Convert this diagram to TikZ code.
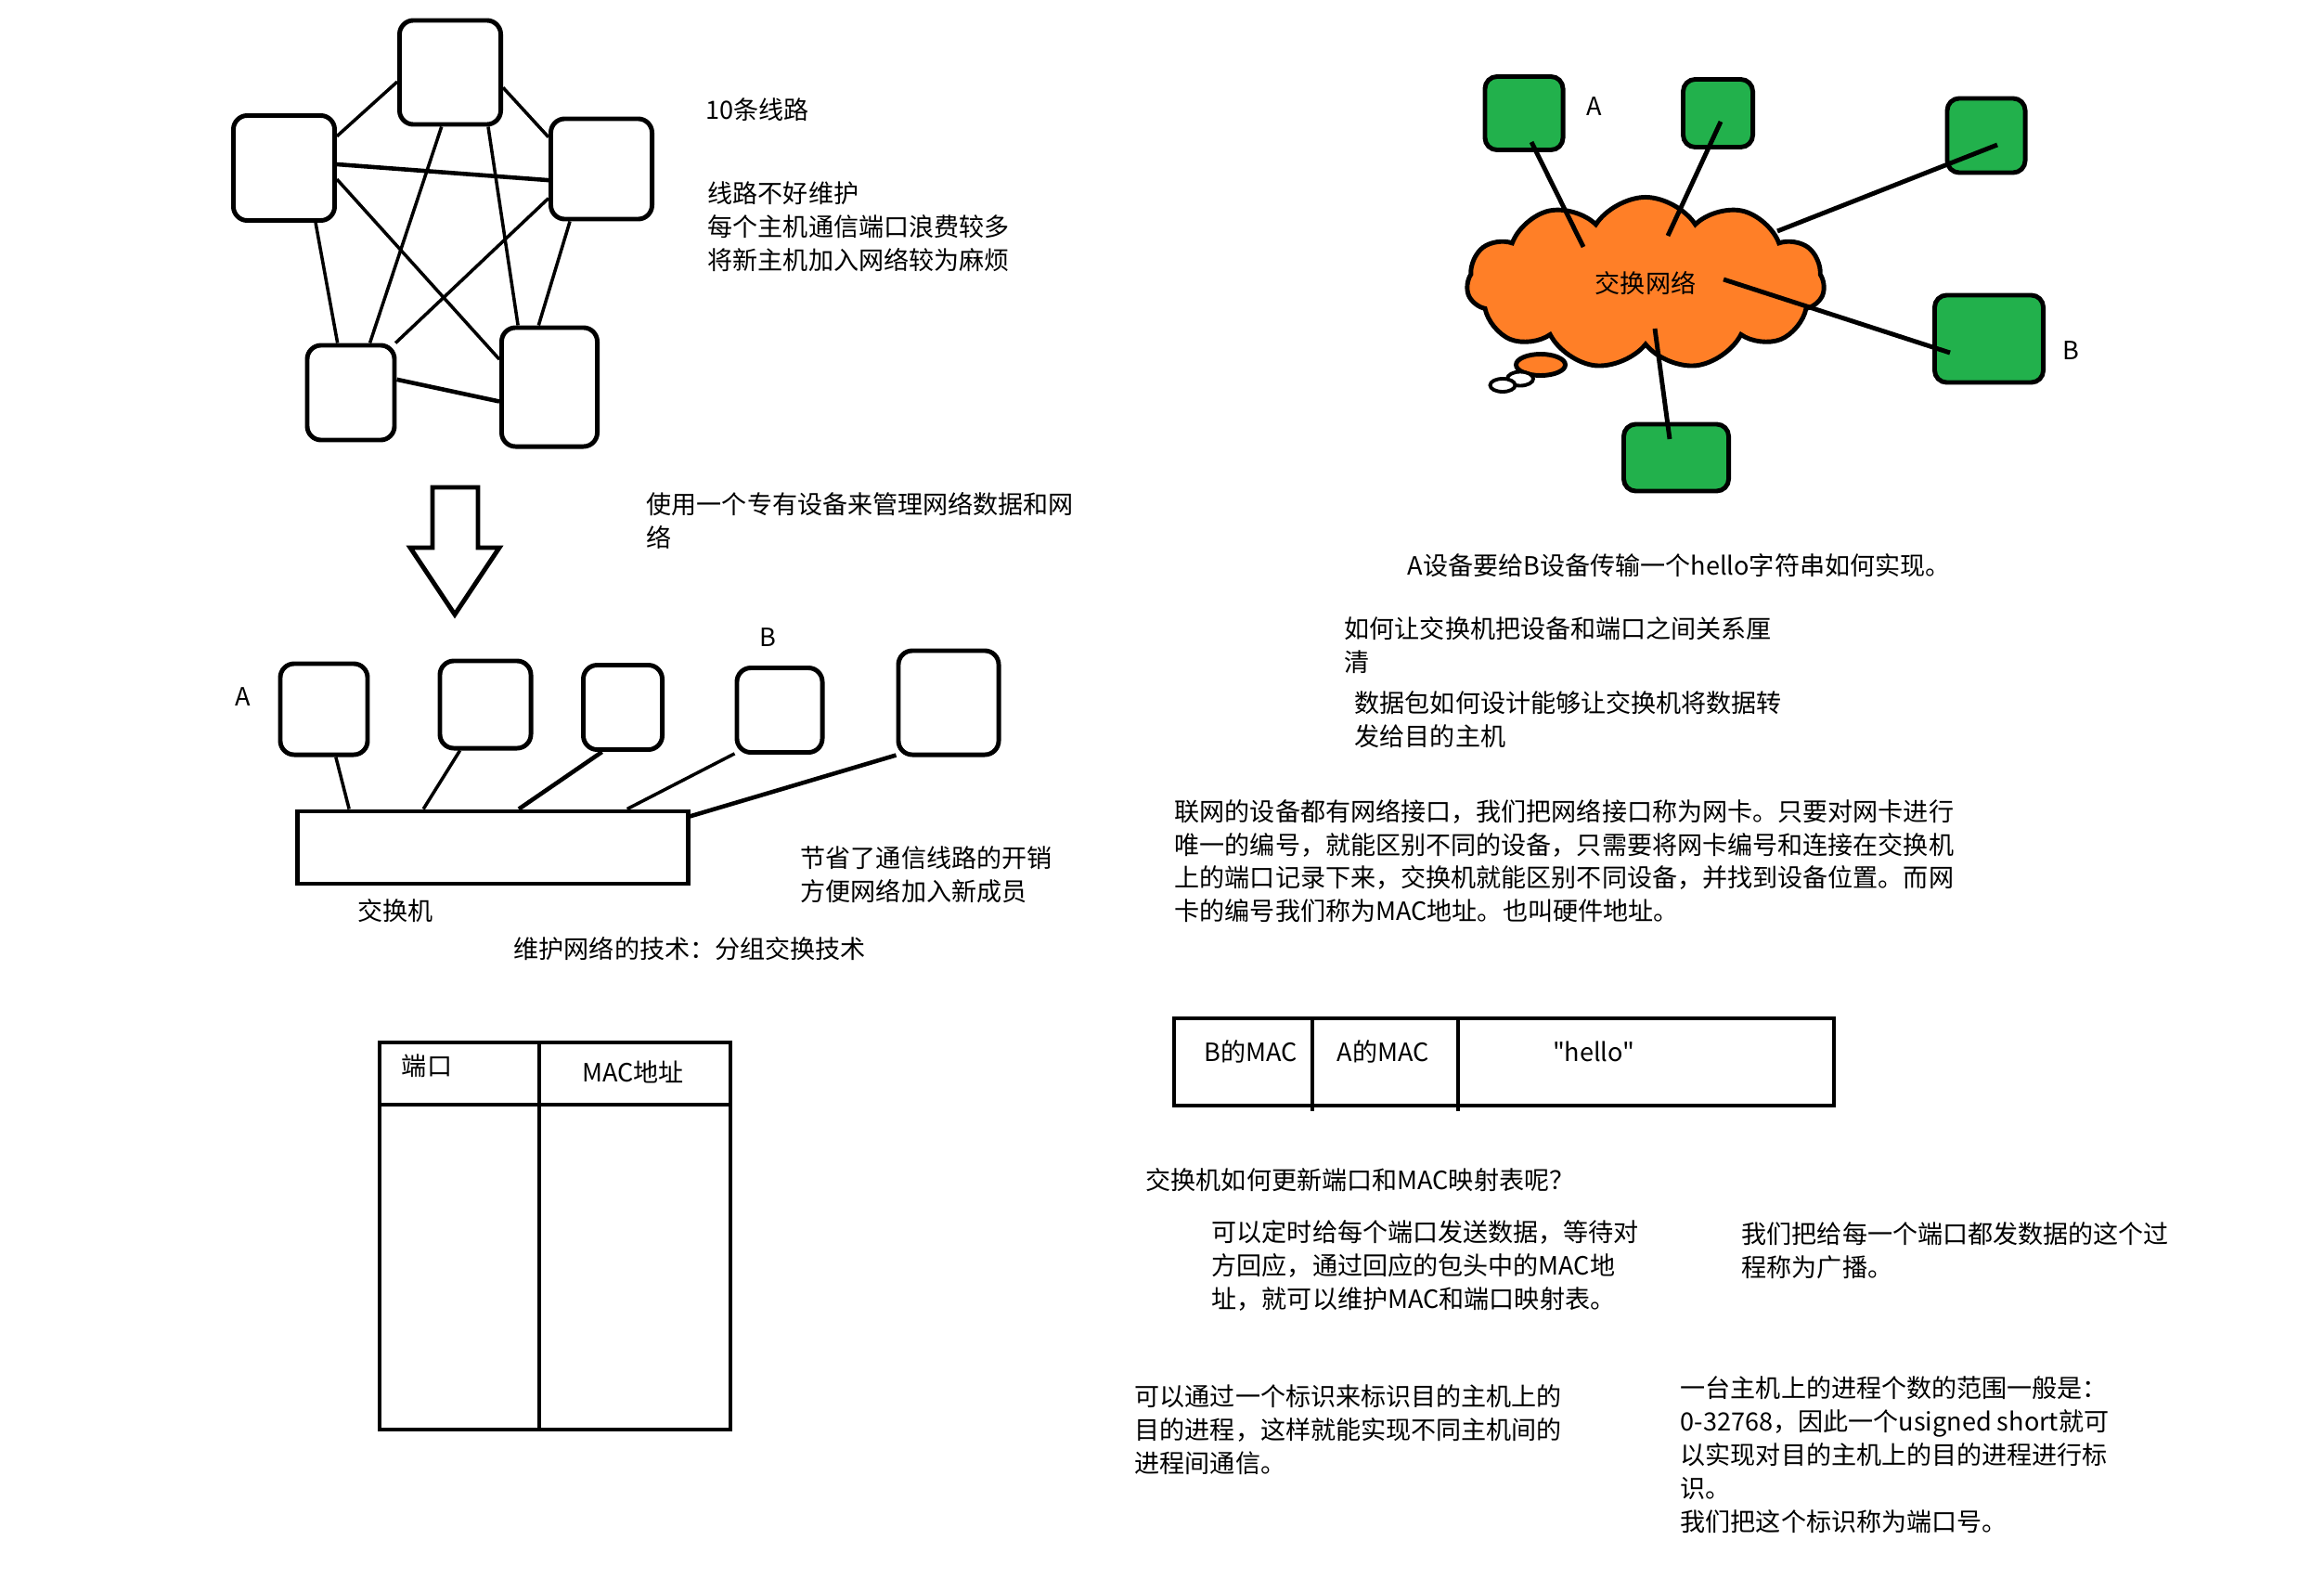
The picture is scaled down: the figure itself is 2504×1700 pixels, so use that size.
\documentclass[tikz,border=0pt]{standalone}
\usepackage{fontspec}
\setmainfont{Noto Sans CJK SC}[Ligatures=TeXOff]
\usetikzlibrary{shapes.symbols,calc}
\definecolor{hostgreen}{HTML}{22B14C}
\definecolor{cloudorange}{HTML}{FF7F27}

\begin{document}
\begin{tikzpicture}[x=0.01cm, y=-0.01cm,
		host/.style={draw, line width=1.4pt, rounded corners=0.15cm, fill=white, inner sep=0pt},
		greenhost/.style={host, fill=hostgreen, rounded corners=0.13cm},
		wire/.style={line width=1pt},
		frame/.style={line width=1.4pt},
		note/.style={align=left, anchor=west, inner sep=0pt, font=\fontsize{7.7pt}{10.24pt}\selectfont},
		tag/.style={inner sep=0pt, font=\fontsize{7.7pt}{10.24pt}\selectfont},
	]
	\useasboundingbox (0,0) rectangle (2504,1700);

	\node[host, minimum width=1.09cm, minimum height=1.12cm] (top) at (485,78) {};
	\node[host, minimum width=1.09cm, minimum height=1.13cm] (left) at (306,181) {};
	\node[host, minimum width=1.09cm, minimum height=1.08cm] (right) at (648,182) {};
	\node[host, minimum width=0.94cm, minimum height=1.02cm] (bleft) at (378,423) {};
	\node[host, minimum width=1.03cm, minimum height=1.28cm] (bright) at (592,417) {};
	\draw[wire] (top.190) -- (left.31);
	\draw[wire] (top.344) -- (right.149);
	\draw[wire, line width=1.3pt] (left.4) -- (right.192);
	\draw[wire] (left.348) -- (bright.151);
	\draw[wire] (top.261) -- (bleft.69);
	\draw[wire] (top.305) -- (bright.117);
	\draw[wire] (right.209) -- (bleft.48);
	\draw[wire] (right.239) -- (bright.100);
	\draw[wire] (left.300) -- (bleft.105);
	\draw[wire, line width=1.3pt] (bleft.16) -- (bright.196);

	\node[note] (lines) at (760,118) {10条线路};
	\node[note] (drawbacks) at (762,244.5) {线路不好维护\\每个主机通信端口浪费较多\\将新主机加入网络较为麻烦};

	\draw[frame, fill=white] (466,525) -- (515,525) -- (515,590) -- (538,590) -- (490,662) -- (442,590) -- (466,590) -- cycle;
	\node[note] (idea) at (696,560.5) {使用一个专有设备来管理网络数据和网\\络};

	\node[host, minimum width=0.94cm, minimum height=0.98cm] (ha) at (349,764) {};
	\node[host, minimum width=0.98cm, minimum height=0.94cm] (hb) at (523,759) {};
	\node[host, minimum width=0.85cm, minimum height=0.91cm] (hc) at (671,762) {};
	\node[host, minimum width=0.92cm, minimum height=0.91cm] (hd) at (840,765) {};
	\node[host, minimum width=1.08cm, minimum height=1.12cm] (he) at (1022,757) {};
	\node[draw, line width=1.4pt, minimum width=4.20cm, minimum height=0.78cm] (switch) at (531,913) {};
	\draw[wire] (ha.284) -- (switch.165);
	\draw[wire] (hb.241) -- (switch.151);
	\draw[wire, line width=1.3pt] (hc.245) -- (switch.56);
	\draw[wire] (hd.224) -- (switch.16);
	\draw[wire, line width=1.3pt] (he.225) -- (switch.9);
	\node[tag] (labela) at (262,751) {A};
	\node[tag] (labelb) at (827,687) {B};
	\node[tag] (switchname) at (426,981) {交换机};
	\node[note] (gain) at (862,942.5) {节省了通信线路的开销\\方便网络加入新成员};
	\node[note] (tech) at (553,1022) {维护网络的技术：分组交换技术};

	\draw[frame] (409,1123) rectangle (787,1540);
	\draw[frame] (409,1190) -- (787,1190);
	\draw[frame] (581,1123) -- (581,1540);
	\node[tag] (porthead) at (460,1148) {端口};
	\node[tag] (machead) at (682,1155) {MAC地址};

	\node[cloud, cloud puffs=11, cloud puff arc=115, aspect=2, draw, line width=1.4pt, fill=cloudorange,
		minimum width=3.85cm, minimum height=1.85cm, font=\fontsize{7.7pt}{10.24pt}\selectfont] (net) at (1773,305) {交换网络};
	\draw[frame, fill=cloudorange] (1660,393) ellipse [x radius=0.265cm, y radius=0.115cm];
	\draw[frame, line width=1.1pt, fill=white] (1638,408) ellipse [x radius=0.14cm, y radius=0.075cm];
	\draw[frame, line width=1.1pt, fill=white] (1619,415) ellipse [x radius=0.135cm, y radius=0.07cm];

	\node[greenhost, minimum width=0.84cm, minimum height=0.79cm] (g1) at (1642,122) {};
	\node[greenhost, minimum width=0.75cm, minimum height=0.73cm] (g2) at (1851,122) {};
	\node[greenhost, minimum width=0.84cm, minimum height=0.80cm] (g3) at (2140,146) {};
	\node[greenhost, minimum width=1.17cm, minimum height=0.94cm] (g4) at (2143,365) {};
	\node[greenhost, minimum width=1.13cm, minimum height=0.72cm] (g5) at (1806,493) {};
	\node[tag] (hosta) at (1718,115) {A};
	\node[tag] (hostb) at (2231,378) {B};
	\coordinate (pa) at (1706,266);
	\coordinate (pb) at (1797,254);
	\coordinate (pc) at (1915,249);
	\coordinate (pd) at (1857,301);
	\coordinate (pe) at (1783,354);
	\draw[frame] ($(g1.center)+(8,31)$) -- (pa);
	\draw[frame] ($(g2.center)+(3,9)$) -- (pb);
	\draw[frame] ($(g3.center)+(12,10)$) -- (pc);
	\draw[frame] ($(g4.center)+(-42,15)$) -- (pd);
	\draw[frame] ($(g5.center)+(-7,-20)$) -- (pe);

	\node[note] (task) at (1516,609) {A设备要给B设备传输一个hello字符串如何实现。};
	\node[note] (q1) at (1448,695) {如何让交换机把设备和端口之间关系厘\\清};
	\node[note] (q2) at (1459,775) {数据包如何设计能够让交换机将数据转\\发给目的主机};
	\node[note, font=\fontsize{7.7pt}{10.1pt}\selectfont] (nic) at (1265,927.5) {联网的设备都有网络接口，我们把网络接口称为网卡。只要对网卡进行\\唯一的编号，就能区别不同的设备，只需要将网卡编号和连接在交换机\\上的端口记录下来，交换机就能区别不同设备，并找到设备位置。而网\\卡的编号我们称为MAC地址。也叫硬件地址。};

	\draw[frame] (1265,1097) rectangle (1976,1191);
	\draw[frame] (1414,1097) -- (1414,1197);
	\draw[frame] (1571,1097) -- (1571,1197);
	\node[tag] (dstmac) at (1348,1133) {B的MAC};
	\node[tag] (srcmac) at (1490,1133) {A的MAC};
	\node[tag] (payload) at (1717,1133) {"hello"};

	\node[note] (q3) at (1234,1271) {交换机如何更新端口和MAC映射表呢？};
	\node[note] (a3) at (1305,1363.5) {可以定时给每个端口发送数据，等待对\\方回应，通过回应的包头中的MAC地\\址，就可以维护MAC和端口映射表。};
	\node[note] (broadcast) at (1876,1347) {我们把给每一个端口都发数据的这个过\\程称为广播。};
	\node[note] (process) at (1222,1540) {可以通过一个标识来标识目的主机上的\\目的进程，这样就能实现不同主机间的\\进程间通信。};
	\node[note] (portno) at (1810,1567.5) {一台主机上的进程个数的范围一般是：\\0-32768，因此一个usigned short就可\\以实现对目的主机上的目的进程进行标\\识。\\我们把这个标识称为端口号。};
\end{tikzpicture}
\end{document}
